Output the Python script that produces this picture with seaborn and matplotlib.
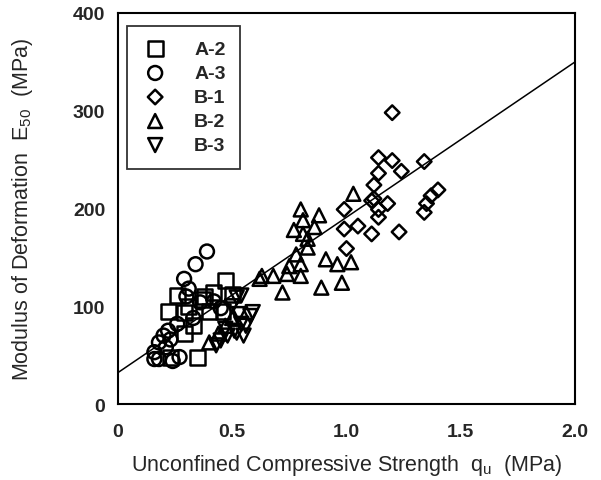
import numpy as np
import pandas as pd
import matplotlib
matplotlib.use("Agg")
import matplotlib.pyplot as plt
import seaborn as sns
from matplotlib.ticker import MultipleLocator, FixedLocator

# data (q_u in MPa, E50 in MPa)
a2_q = [0.47, 0.26, 0.22, 0.29, 0.42, 0.40, 0.46, 0.29, 0.23, 0.35, 0.37, 0.33, 0.38, 0.50, 0.31]
a2_e = [126, 111, 95, 94, 114, 95, 95, 72, 48, 48, 107, 80, 110, 112, 100]

a3_q = [0.39, 0.34, 0.29, 0.31, 0.36, 0.18, 0.16, 0.18, 0.24, 0.27, 0.23, 0.21, 0.16, 0.20,
        0.42, 0.33, 0.26, 0.45, 0.30, 0.22]
a3_e = [156, 143, 128, 118, 104, 63, 53, 46, 44, 48, 66, 58, 46, 70,
        105, 88, 82, 98, 110, 75]

b1_q = [1.20, 1.14, 1.20, 1.34, 1.14, 1.24, 1.12, 1.11, 1.18, 1.14, 1.14, 0.99, 0.99, 1.05,
        1.11, 1.23, 1.00, 1.40, 1.37, 1.35, 1.34, 1.12]
b1_e = [298, 252, 249, 248, 236, 238, 224, 208, 205, 199, 191, 199, 179, 182,
        174, 176, 159, 219, 213, 205, 196, 210]

b2_q = [1.03, 0.80, 0.88, 0.81, 0.77, 0.86, 0.81, 0.83, 0.83, 0.78, 0.80, 0.75, 0.91, 0.96,
        1.02, 0.74, 0.68, 0.62, 0.80, 0.72, 0.89, 0.98, 0.63, 0.40, 0.44, 0.47, 0.50]
b2_e = [215, 199, 193, 188, 178, 181, 174, 169, 160, 153, 143, 141, 148, 143,
        145, 133, 131, 128, 131, 114, 119, 124, 131, 63, 72, 80, 88]

b3_q = [0.54, 0.52, 0.53, 0.58, 0.54, 0.51, 0.48, 0.47, 0.59, 0.56, 0.52, 0.55, 0.43, 0.50, 0.45]
b3_e = [111, 109, 92, 90, 82, 75, 70, 77, 94, 80, 73, 70, 60, 100, 65]

groups = ['A-2', 'A-3', 'B-1', 'B-2', 'B-3']
markers = {'A-2': 's', 'A-3': 'o', 'B-1': 'D', 'B-2': '^', 'B-3': 'v'}
sizes = {'A-2': 115, 'A-3': 100, 'B-1': 55, 'B-2': 100, 'B-3': 100}

# fitted line E50 = a + b * qu
fit_a, fit_b = 32, 159
line_q = np.array([0.0, 2.0])

df = pd.concat([
    pd.DataFrame({'qu': a2_q, 'E50': a2_e, 'group': 'A-2'}),
    pd.DataFrame({'qu': a3_q, 'E50': a3_e, 'group': 'A-3'}),
    pd.DataFrame({'qu': b1_q, 'E50': b1_e, 'group': 'B-1'}),
    pd.DataFrame({'qu': b2_q, 'E50': b2_e, 'group': 'B-2'}),
    pd.DataFrame({'qu': b3_q, 'E50': b3_e, 'group': 'B-3'}),
], ignore_index=True)

sns.set_style("white")
plt.rcParams['font.family'] = ['Liberation Sans', 'DejaVu Sans']
plt.rcParams['mathtext.fontset'] = 'custom'
plt.rcParams['mathtext.rm'] = 'Liberation Sans'

fig = plt.figure(figsize=(6.01, 4.81), dpi=100)
ax = fig.add_axes([0.196, 0.158, 0.761, 0.813])

sns.lineplot(x=line_q, y=fit_a + fit_b * line_q, color='black', linewidth=1.1, ax=ax)

for g in groups:
    sub = df[df['group'] == g]
    sns.scatterplot(data=sub, x='qu', y='E50', marker=markers[g], s=sizes[g],
                    facecolors='none', edgecolor='black', linewidth=1.8,
                    label=g, ax=ax)

ax.set_xlim(0, 2.0)
ax.set_ylim(0, 400)
ax.xaxis.set_major_locator(FixedLocator([0, 0.5, 1.0, 1.5, 2.0]))
ax.set_xticklabels(['0', '0.5', '1.0', '1.5', '2.0'])
ax.yaxis.set_major_locator(MultipleLocator(100))
ax.yaxis.set_minor_locator(MultipleLocator(50))
ax.tick_params(axis='both', which='major', direction='in', length=7, width=1.3,
               labelsize=14, pad=9)
ax.tick_params(axis='x', which='major', pad=14)
ax.tick_params(axis='y', which='minor', direction='in', length=5, width=1.2)
for lab in ax.get_xticklabels() + ax.get_yticklabels():
    lab.set_fontweight('bold')
for sp in ax.spines.values():
    sp.set_linewidth(1.5)
    sp.set_color('black')

ax.set_xlabel(r'Unconfined Compressive Strength  q$_\mathregular{u}$  (MPa)', fontsize=15.5, labelpad=8)
ax.set_ylabel(r'Modulus of Deformation  E$_\mathregular{50}$  (MPa)', fontsize=15.5, labelpad=27)

leg = ax.legend(loc='upper left', bbox_to_anchor=(0.02, 0.967), fontsize=14,
                frameon=True, fancybox=False, edgecolor='black', handletextpad=1.3,
                borderpad=0.75, labelspacing=0.33, handlelength=1.4, borderaxespad=0)
leg.get_frame().set_linewidth(1.3)
for t in leg.get_texts():
    t.set_fontweight('bold')

fig.savefig('out.png', dpi=100)
